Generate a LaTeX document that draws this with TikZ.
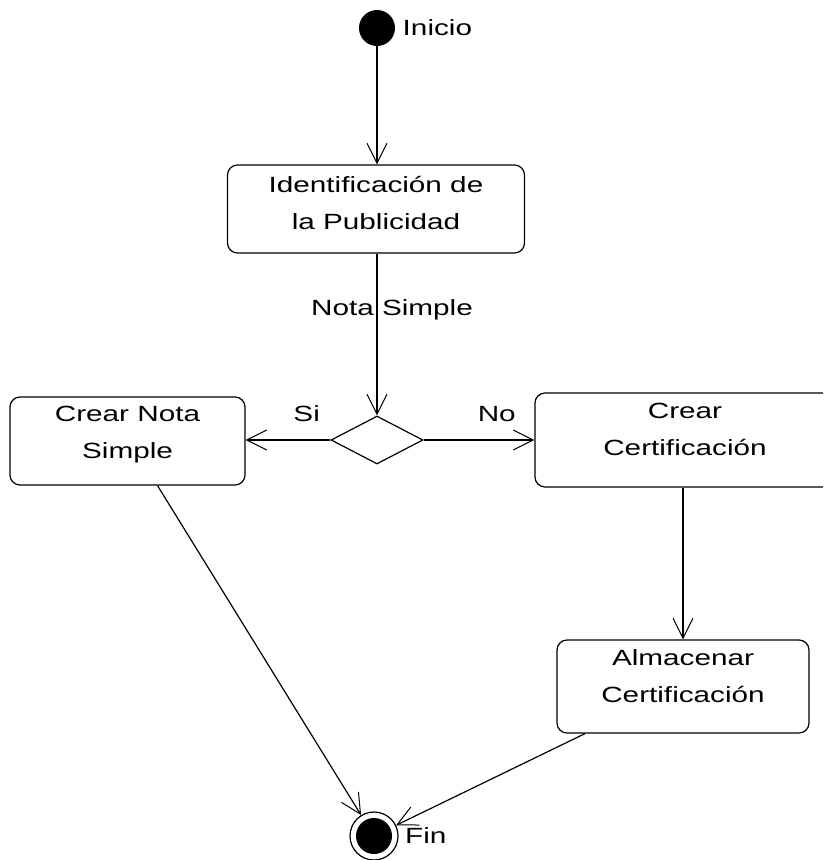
\documentclass[tikz,border=0pt]{standalone}
\usepackage{fontspec}
\setmainfont{Liberation Sans}[FakeStretch=1.35]
\usepackage{tikz}
\usetikzlibrary{positioning,arrows.meta,shapes.geometric}

\begin{document}
\begin{tikzpicture}[
x=1pt, y=-1pt,
font=\fontsize{22}{37}\selectfont,
actbox/.style={rectangle, rounded corners=10pt, draw=black, line width=1.2pt, inner sep=0pt},
boxtext/.style={align=center, yshift=#1},
decision/.style={diamond, draw=black, line width=1.2pt, inner sep=0pt, minimum width=92pt, minimum height=48pt},
startnode/.style={circle, fill=black, minimum size=36pt, inner sep=0pt},
endnode/.style={circle, draw=black, line width=1.2pt, minimum size=48pt, inner sep=0pt,
    path picture={\fill[black] (path picture bounding box.center) circle (18pt);}},
flow/.style={-{Straight Barb[length=20pt, width=20pt, line width=1pt]}, draw=black, line width=1.2pt}
]
    \clip (0,0) rectangle (823,860);
    %Nodes
    \node[startnode, label={[label distance=4pt]right:Inicio}]
        (ini)   at (377,28)   {};
    \node[actbox, minimum width=297pt, minimum height=88pt,
        label={[boxtext=6pt]center:Identificación de\\la Publicidad}]
        (ident) at (376,209)  {};
    \node[decision]
        (dec)   at (377,440)  {};
    \node[actbox, minimum width=235pt, minimum height=88pt,
        label={[boxtext=6pt]center:Crear Nota\\Simple}]
        (nota)  at (127.5,441) {};
    \node[actbox, minimum width=300pt, minimum height=94pt,
        label={[boxtext=11pt]center:Crear\\Certificación}]
        (cert)  at (685,440)  {};
    \node[actbox, minimum width=252pt, minimum height=93pt,
        label={[boxtext=10pt]center:Almacenar\\Certificación}]
        (alm)   at (683,686.5) {};
    \node[endnode, label={[label distance=3pt]right:Fin}]
        (fin)   at (374,836)  {};

    %Lines
    \draw[flow] (ini.south) -- (ini.south |- ident.north);
    \draw[flow] (ident.south -| dec.north) -- node[pos=0.35, xshift=15pt] {Nota Simple} (dec.north);
    \draw[flow] (dec.west) -- node[pos=0.28, yshift=26pt] {Si} (nota.east |- dec.west);
    \draw[flow] (dec.east) -- node[pos=0.66, yshift=26pt] {No} (cert.west |- dec.east);
    \draw[flow] (cert.south -| alm.north) -- (alm.north);
    \draw[flow] ([xshift=30pt]nota.south) -- (fin);
    \draw[flow] ([xshift=-98pt]alm.south) -- (fin);
\end{tikzpicture}
\end{document}
